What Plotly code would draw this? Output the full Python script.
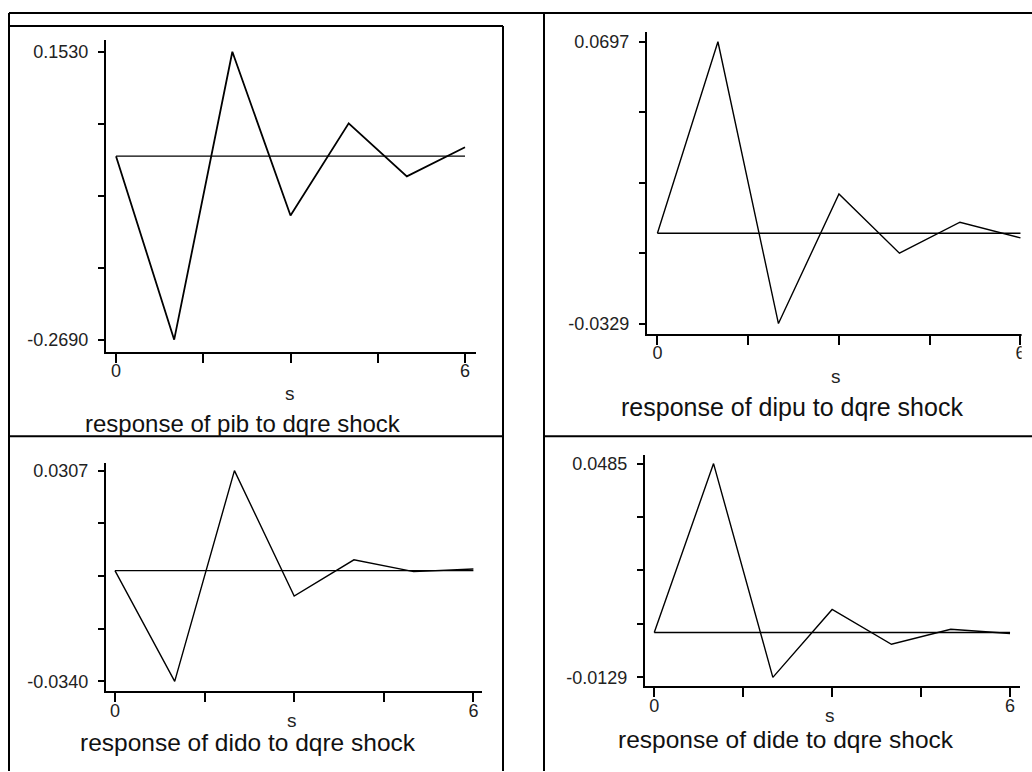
import plotly.graph_objects as go

# Impulse responses to a dqre shock, steps 0..6
steps = [0, 1, 2, 3, 4, 5, 6]
resp_pib = [0.0, -0.2690, 0.1530, -0.0870, 0.0482, -0.0296, 0.0130]
resp_dipu = [0.0, 0.0697, -0.0329, 0.0143, -0.0073, 0.0040, -0.0017]
resp_dido = [0.0, -0.0340, 0.0307, -0.0078, 0.0033, -0.0003, 0.0005]
resp_dide = [0.0, 0.0485, -0.0129, 0.0066, -0.0034, 0.0009, -0.0003]
zero_line = [0.0, 0.0]
zero_span = [0, 6]

titles = [
    "response of pib to dqre shock",
    "response of dipu to dqre shock",
    "response of dido to dqre shock",
    "response of dide to dqre shock",
]
x_tickvals = [0, 1.5, 3, 4.5, 6]
x_ticktext = ["0", "", "", "", "6"]

W, H = 1032, 772
FONT = "Liberation Sans, Arial, sans-serif"


def px(x):
    return x / W


def py(y):
    return 1 - y / H


# panel geometry in pixels: axis box (left, top, right, bottom), x pads, y pads (bottom, top)
panels = [
    dict(series=resp_pib, box=(106, 38, 476, 351), xpad=(0.0287, 0.0315), ypad=(0.0415, 0.0415),
         title_xy=(243, 423), title_size=24, s_xy=(290, 393), lw=1.8),
    dict(series=resp_dipu, box=(647, 30, 1031, 333), xpad=(0.0287, 0.029), ypad=(0.036, 0.035),
         title_xy=(792, 407), title_size=25, s_xy=(836, 376), lw=1.4),
    dict(series=resp_dido, box=(106, 463, 482, 692), xpad=(0.025, 0.024), ypad=(0.047, 0.035),
         title_xy=(248, 743), title_size=24.5, s_xy=(292, 721), lw=1.4),
    dict(series=resp_dide, box=(645, 455, 1020, 687), xpad=(0.026, 0.028), ypad=(0.042, 0.039),
         title_xy=(786, 740), title_size=24.5, s_xy=(830, 716), lw=1.4),
]

fig = go.Figure()
annotations = []
layout_axes = {}
tick_font = dict(family=FONT, size=18, color="#222")

for i, p in enumerate(panels, start=1):
    vals = p["series"]
    lo, hi = min(vals), max(vals)
    span = hi - lo
    x0, y0, x1, y1 = p["box"]
    xa = "x" if i == 1 else f"x{i}"
    ya = "y" if i == 1 else f"y{i}"

    fig.add_trace(go.Scatter(x=zero_span, y=zero_line, mode="lines",
                             line=dict(color="black", width=1.4),
                             xaxis=xa, yaxis=ya, showlegend=False, hoverinfo="skip"))
    fig.add_trace(go.Scatter(x=steps, y=vals, mode="lines",
                             line=dict(color="black", width=p["lw"]),
                             xaxis=xa, yaxis=ya, showlegend=False))

    y_tickvals = [lo + span * k / 4 for k in range(5)]
    y_ticktext = [f"{lo:.4f}", "", "", "", f"{hi:.4f}"]
    xr = [0 - 6 * p["xpad"][0], 6 + 6 * p["xpad"][1]]
    yr = [lo - span * p["ypad"][0], hi + span * p["ypad"][1]]

    layout_axes[f"xaxis{'' if i == 1 else i}"] = dict(
        domain=[px(x0), px(x1)], range=xr, anchor=ya,
        showline=True, linecolor="black", linewidth=2,
        ticks="outside", ticklen=9, tickwidth=1.5, tickcolor="black",
        tickvals=x_tickvals, ticktext=x_ticktext,
        tickfont=tick_font, ticklabelstandoff=-7,
        showgrid=False, zeroline=False, fixedrange=True,
    )
    layout_axes[f"yaxis{'' if i == 1 else i}"] = dict(
        domain=[py(y1), py(y0)], range=yr, anchor=xa,
        showline=True, linecolor="black", linewidth=2,
        ticks="outside", ticklen=6, tickwidth=1.5, tickcolor="black",
        tickvals=y_tickvals, ticktext=y_ticktext,
        tickfont=tick_font, ticklabelstandoff=6,
        showgrid=False, zeroline=False, fixedrange=True,
    )

    tx, ty = p["title_xy"]
    annotations.append(dict(text=titles[i - 1], x=px(tx), y=py(ty), xref="paper", yref="paper",
                            xanchor="center", yanchor="middle", showarrow=False,
                            font=dict(family=FONT, size=p["title_size"], color="#111")))
    sx, sy = p["s_xy"]
    annotations.append(dict(text="s", x=px(sx), y=py(sy), xref="paper", yref="paper",
                            xanchor="center", yanchor="middle", showarrow=False,
                            font=dict(family=FONT, size=19, color="#222")))

# table frame around the four panels
frame = [
    (9, 11, 1032, 11), (9, 24, 503, 24), (9, 11, 9, 772), (503, 24, 503, 772),
    (544, 11, 544, 772), (9, 436, 503, 436), (544, 436, 1032, 436),
]
shapes = [dict(type="line", xref="paper", yref="paper", x0=px(a), y0=py(b), x1=px(c), y1=py(d),
               line=dict(color="black", width=2), layer="above") for a, b, c, d in frame]
# the upper-right graphic is cut at its right edge
shapes.append(dict(type="rect", xref="paper", yref="paper", x0=px(1021.6), x1=px(1032),
                   y0=py(372), y1=py(326), fillcolor="white", line=dict(width=0), layer="above"))

fig.update_layout(
    width=W, height=H, margin=dict(l=0, r=0, t=0, b=0),
    paper_bgcolor="white", plot_bgcolor="white",
    annotations=annotations, shapes=shapes, showlegend=False,
    **layout_axes,
)

fig.write_html("out.html", config={"displayModeBar": False})
